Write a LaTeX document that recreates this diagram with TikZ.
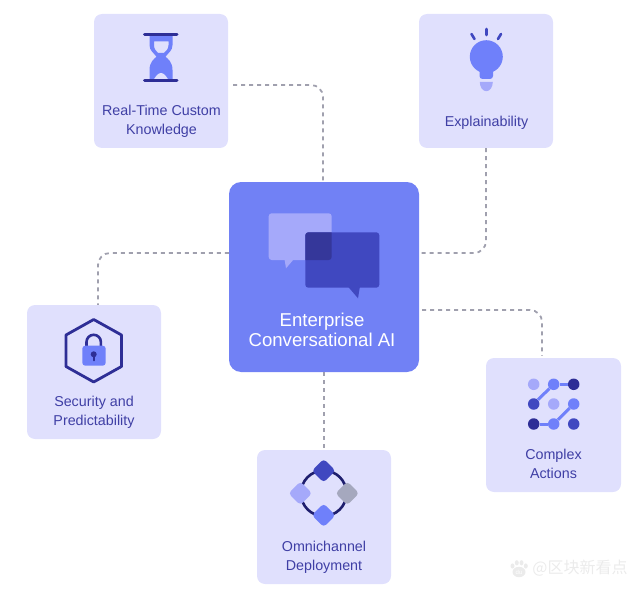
\documentclass[tikz,border=0pt]{standalone}
\usepackage{fontspec}
\setmainfont{Liberation Sans}
\newfontfamily\cjkfont{Noto Sans CJK SC}
\usetikzlibrary{calc}
\definecolor{cardbg}{HTML}{E0E0FD}
\definecolor{mainbg}{HTML}{7181F5}
\definecolor{inkdark}{HTML}{2E2E96}
\definecolor{inkmid}{HTML}{4048C0}
\definecolor{accent}{HTML}{6F80FA}
\definecolor{soft}{HTML}{A5A9FA}
\definecolor{labelink}{HTML}{3F3FA5}
\definecolor{dashgray}{HTML}{A0A0AE}
\definecolor{overlapc}{HTML}{35379A}
\definecolor{ringc}{HTML}{1E1E6E}
\definecolor{wmark}{HTML}{EBEBEB}
\definecolor{gemgray}{HTML}{A5A8BE}
\tikzset{
  card/.style={draw=none,fill=cardbg,rounded corners=8pt,minimum width=134pt,minimum height=134pt,inner sep=0pt},
  hub/.style={draw=none,fill=mainbg,rounded corners=12pt,minimum width=190pt,minimum height=190pt,inner sep=0pt},
  lab/.style={text=labelink,font=\fontsize{14.3}{19}\selectfont,align=center,inner sep=0pt},
  hublab/.style={text=white,font=\fontsize{18.6}{20}\selectfont,align=center,inner sep=0pt},
  link/.style={draw=dashgray,line width=1.8pt,dash pattern=on 4pt off 4pt,rounded corners=12pt},
  dot/.style={circle,inner sep=0pt,minimum size=11.5pt,draw=none},
  dotline/.style={draw=accent,line width=3pt},
  gem/.style={draw=none,rounded corners=3.5pt}
}
\begin{document}
\begin{tikzpicture}[x=1pt,y=-1pt]
\useasboundingbox (0,0) rectangle (640,591);
% cards
\node[card] (rt) at (161,81) {};
\node[card] (ex) at (486,81) {};
\node[hub] (hub) at (324,277) {};
\node[card] (sec) at (94,372) {};
\node[card,minimum width=135pt] (act) at (553.5,425) {};
\node[card] (omni) at (324,517) {};
% connector ends
\coordinate (rtout) at ($(rt.east)+(5,4)$);
\coordinate (hubtop) at ($(hub.north)+(-1,0)$);
\coordinate (hubr1) at ($(hub.east)+(0,-24)$);
\coordinate (hubl1) at ($(hub.west)+(0,-24)$);
\coordinate (hubr2) at ($(hub.east)+(3,33)$);
\coordinate (actin) at ($(act.north)+(-11.5,-2)$);
\coordinate (secin) at ($(sec.north)+(4,0)$);
\draw[link] (rtout) -| (hubtop);
\draw[link] (ex.south) |- (hubr1);
\draw[link] (hubl1) -| (secin);
\draw[link] (hubr2) -| (actin);
\draw[link] (hub.south) -- (omni.north);
% labels
\node[lab] (l1) at (161.5,121) {Real-Time Custom\\Knowledge};
\node[lab] (l2) at (486.5,122.5) {Explainability};
\node[lab] (l3) at (94,412) {Security and\\Predictability};
\node[lab] (l4) at (553.5,463.5) {Complex\\Actions};
\node[lab] (l5) at (324,557) {Omnichannel\\Deployment};
\node[hublab] (l6) at (322,330) {Enterprise\\Conversational AI};
% hourglass
\fill[accent,even odd rule]
  (149.5,35) -- (172.5,35) -- (172.5,45) .. controls (172.5,51) and (168,53) .. (165.5,56.7)
  .. controls (168,59) and (172.5,62) .. (172.5,70) -- (172.5,80) -- (149.5,80) -- (149.5,70)
  .. controls (149.5,62) and (154,59) .. (156.5,56.7) .. controls (154,53) and (149.5,51) .. (149.5,45) -- cycle
  (154,41.5) -- (154,45) .. controls (154,49) and (156,51) .. (158,53)
  -- (164,53) .. controls (166,51) and (168.5,49) .. (168.5,45) -- (168.5,41.5) -- cycle;
\fill[cardbg] (153.5,80) .. controls (156,76) and (158,73) .. (161,73) .. controls (164,73) and (166,76) .. (168.5,80) -- cycle;
\draw[inkdark,line width=3pt,line cap=round] (144.5,35) -- (177,35);
\draw[inkdark,line width=3pt,line cap=round] (144.5,81) -- (177,81);
% bulb
\fill[accent] (486.3,56.7) circle (16.5);
\fill[accent,rounded corners=3pt] (479.5,65) rectangle (493,79);
\fill[soft] (479.8,82) arc[start angle=180,end angle=0,x radius=6.5,y radius=9.2] -- cycle;
\draw[inkmid,line width=2.6pt,line cap=round] (486.3,29) -- (486.3,35);
\draw[inkmid,line width=2.6pt,line cap=round] (471.5,34) -- (474.5,39);
\draw[inkmid,line width=2.6pt,line cap=round] (501,34) -- (498,39);
% bubbles
\fill[soft,rounded corners=3pt] (268.7,213.3) rectangle (331.7,260);
\fill[soft] (284.5,259) -- (286,268.3) -- (294,259) -- cycle;
\fill[inkmid,rounded corners=3pt] (305.3,232.3) rectangle (379.3,287.7);
\fill[inkmid,line join=round] (347.5,286) -- (358,298.3) -- (360,286) -- cycle;
\begin{scope}
\clip[rounded corners=3pt] (268.7,213.3) rectangle (331.7,260);
\fill[overlapc,rounded corners=3pt] (305.3,232.3) rectangle (379.3,287.7);
\end{scope}
% hexagon and lock
\draw[inkdark,line width=2.8pt,line join=round] (93.7,319.5) -- (121.5,335) -- (121.5,366.5) -- (93.7,382) -- (66,366.5) -- (66,335) -- cycle;
\draw[inkdark,line width=2.6pt] (86.5,347) -- (86.5,342) arc[start angle=180,end angle=360,radius=7.2] -- (100.9,347);
\fill[accent,rounded corners=3pt] (82.3,345.7) rectangle (105.7,365.7);
\fill[inkdark] (93.7,354.3) circle (3);
\draw[inkdark,line width=1.8pt,line cap=round] (93.7,355) -- (93.7,360.5);
% dots
\node[dot,fill=soft] (d11) at (533.7,384.3) {};
\node[dot,fill=accent] (d12) at (553.7,384.3) {};
\node[dot,fill=inkdark] (d13) at (573.7,384.3) {};
\node[dot,fill=inkmid] (d21) at (533.7,404) {};
\node[dot,fill=soft] (d22) at (553.7,404) {};
\node[dot,fill=accent] (d23) at (573.7,404) {};
\node[dot,fill=inkdark] (d31) at (533.7,424) {};
\node[dot,fill=accent] (d32) at (553.7,424) {};
\node[dot,fill=inkmid] (d33) at (573.7,424) {};
\draw[dotline] (d21) -- (d12);
\draw[dotline] (d12) -- (d13);
\draw[dotline] (d31) -- (d32);
\draw[dotline] (d32) -- (d23);
% ring and diamonds
\draw[ringc,line width=2.6pt] (323.7,493.3) circle (22.8);
\fill[gem,inkmid] (323.7,458.9) -- (335.5,470.7) -- (323.7,482.5) -- (311.9,470.7) -- cycle;
\fill[gem,soft] (300.3,481.5) -- (312.1,493.3) -- (300.3,505.1) -- (288.5,493.3) -- cycle;
\fill[gem,gemgray] (347.3,481.5) -- (359.1,493.3) -- (347.3,505.1) -- (335.5,493.3) -- cycle;
\fill[gem,accent] (323.7,503.5) -- (335.5,515.3) -- (323.7,527.1) -- (311.9,515.3) -- cycle;
% watermark
\node[text=wmark,font=\cjkfont\fontsize{16}{16}\selectfont,inner sep=0pt] (wm) at (580,568.5) {@区块新看点};
\fill[wmark] (519,572) ellipse (6.5 and 5.2);
\fill[wmark] (512.5,566) ellipse (2 and 2.6) (516.8,562.8) ellipse (2 and 2.6) (521.5,562.8) ellipse (2 and 2.6) (525.8,566) ellipse (2 and 2.6);
\node[text=white,font=\fontsize{6}{6}\selectfont,inner sep=0pt] (du) at (519,572.5) {du};
\end{tikzpicture}
\end{document}
